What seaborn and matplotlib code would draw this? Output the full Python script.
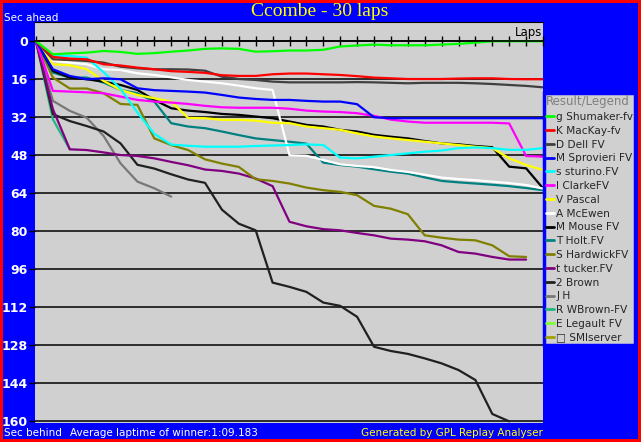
import matplotlib
matplotlib.use('Agg')

import pandas as pd
import seaborn as sns
import matplotlib.pyplot as plt
from matplotlib.lines import Line2D

# driver names as in the legend
DRIVERS = [
    'g Shumaker-fv', 'K MacKay-fv', 'D Dell FV', 'M Sprovieri FV', 's sturino.FV',
    'I ClarkeFV', 'V Pascal', 'A McEwen', 'M Mouse FV', 'T Holt.FV',
    'S HardwickFV', 't tucker.FV', '2 Brown', 'J H', 'R WBrown-FV',
    'E Legault FV', '\u25a1 SMIserver',
]
COLORS = [
    '#00ff00', '#ff0000', '#404040', '#0000ff', '#00ffff',
    '#ff00ff', '#ffff00', '#ffffff', '#000000', '#008080',
    '#808000', '#800080', '#202020', '#787878', '#20b880',
    '#80ff30', '#a0a000',
]

# seconds behind the leader, one value per lap (lap 0 first)
shumaker = [0, 5.5, 5.1, 4.8, 4.1, 4.5, 5.3, 5.0, 4.4, 3.9, 3.2, 3.0, 3.2, 4.4, 4.2, 3.9,
            3.9, 3.6, 2.2, 1.8, 1.4, 1.7, 1.7, 1.7, 1.4, 1.1, 0.6, 0, 0, 0, 0]
mackay = [0, 6.6, 7.3, 7.6, 9.7, 10.2, 11.1, 11.8, 12.6, 12.9, 13.3, 14.3, 14.6, 14.6, 13.9, 13.6,
          13.6, 13.9, 14.2, 14.7, 15.3, 15.6, 15.9, 15.9, 15.9, 15.7, 15.6, 15.6, 15.9, 16.0, 16.0]
dell = [0, 7.6, 7.9, 8.3, 9.0, 10.7, 11.4, 11.8, 11.8, 11.9, 12.4, 14.9, 15.9, 16.3, 17.0, 17.3,
        17.3, 17.3, 17.3, 17.2, 17.3, 17.5, 17.7, 17.5, 17.5, 17.5, 17.7, 18.0, 18.4, 18.8, 19.4]
sprovieri = [0, 11.8, 14.6, 16.0, 15.6, 16.0, 19.8, 20.6, 20.9, 21.2, 21.6, 22.6, 23.7, 24.3, 24.7, 24.7,
             25.1, 25.4, 25.4, 26.5, 32.0, 32.4, 32.4, 32.4, 32.4, 32.4, 32.4, 32.4, 32.4, 32.4, 32.4]
sturino = [0, 6.0, 6.2, 6.9, 13.0, 20.0, 30.0, 39.0, 43.5, 44.0, 44.4, 44.4, 44.4, 44.1, 43.9, 43.7,
           43.4, 43.7, 49.0, 49.3, 48.6, 47.9, 47.2, 46.5, 46.0, 45.0, 44.7, 45.0, 45.7, 45.7, 45.0]
clarke = [0, 20.9, 21.2, 21.5, 21.9, 23.3, 24.7, 25.4, 25.8, 26.4, 27.2, 27.8, 28.0, 28.0, 28.0, 28.4,
          29.2, 29.6, 29.8, 30.3, 31.4, 33.0, 33.8, 34.3, 34.3, 34.3, 34.3, 34.3, 34.6, 48.3, 48.6]
pascal = [0, 9.7, 10.1, 11.8, 16.7, 20.5, 22.6, 24.0, 25.4, 32.3, 32.4, 33.1, 33.1, 33.4, 34.3, 34.5,
          35.9, 36.6, 37.3, 38.8, 40.1, 40.9, 41.6, 42.3, 43.0, 43.7, 44.4, 45.0, 49.3, 52.1, 54.2]
mcewen = [0, 8.3, 9.0, 9.7, 11.8, 12.1, 13.5, 14.2, 15.2, 16.3, 17.0, 17.7, 18.7, 19.8, 20.5, 48.0,
          48.2, 50.0, 51.8, 52.5, 53.0, 54.2, 55.0, 56.2, 57.4, 58.0, 58.5, 59.1, 59.7, 60.5, 62.0]
mouse = [0, 12.5, 15.3, 16.0, 17.0, 18.4, 20.5, 24.7, 28.2, 29.2, 29.8, 30.6, 31.0, 31.7, 32.4, 33.8,
         35.2, 35.9, 37.3, 38.0, 39.4, 40.2, 40.9, 42.0, 43.0, 43.4, 44.1, 44.6, 52.8, 53.5, 61.9]
holt = [0, 13.2, 15.3, 15.3, 17.4, 20.5, 21.9, 25.4, 34.5, 35.9, 36.6, 38.0, 39.5, 40.9, 41.6, 42.3,
        43.1, 51.1, 52.1, 52.8, 53.9, 54.9, 55.7, 57.3, 58.8, 59.4, 59.9, 60.4, 61.0, 61.8, 62.7]
hardwick = [0, 15.3, 19.9, 19.9, 21.9, 26.4, 26.8, 40.9, 43.7, 45.8, 49.7, 51.5, 52.9, 58.1, 58.8, 59.9,
            61.6, 62.7, 63.4, 64.8, 69.3, 70.5, 72.8, 81.7, 82.7, 83.5, 83.8, 85.9, 90.5, 90.8]
tucker = [0, 28.6, 45.5, 45.8, 46.8, 47.9, 48.3, 49.3, 50.8, 52.2, 54.0, 54.6, 55.7, 57.8, 61.0, 76.0,
          77.9, 79.1, 79.6, 80.7, 81.7, 83.1, 83.5, 84.2, 85.9, 88.7, 89.4, 90.8, 91.9, 91.9]
brown = [0, 30.7, 33.6, 35.7, 38.0, 43.0, 52.0, 53.6, 56.0, 58.2, 59.6, 70.9, 76.8, 79.6, 101.6, 103.4,
         105.5, 110.0, 111.4, 116.0, 128.6, 130.4, 131.6, 133.5, 135.6, 138.4, 142.6, 156.9, 160.0]
jh = [0, 25.1, 29.3, 32.2, 39.9, 51.4, 59.1, 61.9, 65.4]
wbrown = [0, 32.9, 45.5]
legault = []
smiserver = []

SERIES = [shumaker, mackay, dell, sprovieri, sturino, clarke, pascal, mcewen, mouse, holt,
          hardwick, tucker, brown, jh, wbrown, legault, smiserver]

Y_TICKS = list(range(0, 161, 16))

BLUE = '#0000ff'
PANEL = '#d0d0d0'

# long form table for seaborn
rows = []
for name, vals in zip(DRIVERS, SERIES):
    for lap, sec in enumerate(vals):
        rows.append({'driver': name, 'lap': lap, 'sec': sec})
df = pd.DataFrame(rows)

sns.set_style("white")
plt.rcParams['font.family'] = ['DejaVu Sans']

fig = plt.figure(figsize=(6.41, 4.42), dpi=100)
fig.patch.set_facecolor(BLUE)
fig.patch.set_edgecolor('#ff0000')
fig.patch.set_linewidth(4.3)

W, H = 641.0, 442.0
ax = fig.add_axes([35 / W, 1 - 423 / H, 508 / W, 401 / H])
ax.set_facecolor(PANEL)

drawn = [d for d, v in zip(DRIVERS, SERIES) if len(v) > 0]
palette = dict(zip(DRIVERS, COLORS))
# draw back to front so the leaders end up on top
for name in reversed(drawn):
    sns.lineplot(data=df[df['driver'] == name], x='lap', y='sec', color=palette[name],
                 lw=1.6, estimator=None, legend=False, ax=ax)

ax.set_xlim(-0.06, 30.0)
ax.set_ylim(160.7, -8.1)

# lap ticks on the zero line
for s in ['left', 'right']:
    ax.spines[s].set_visible(False)
ax.spines['top'].set_color('black')
ax.spines['top'].set_linewidth(0.8)
ax.spines['bottom'].set_position(('data', 0))
ax.spines['bottom'].set_color('black')
ax.spines['bottom'].set_linewidth(1.2)
ax.set_xticks(range(0, 31))
ax.tick_params(axis='x', direction='inout', length=7, width=1, color='black',
               labelbottom=False, bottom=True)

ax.set_yticks(Y_TICKS)
ax.set_yticklabels([str(v) for v in Y_TICKS], color='white', fontsize=9, fontweight='bold')
ax.tick_params(axis='y', direction='out', length=4, width=1, color='black', pad=1, left=True)
ax.grid(axis='y', color='black', lw=1.1)
ax.grid(axis='x', visible=False)
ax.set_xlabel('')
ax.set_ylabel('')

ax.text(29.95, -1.0, 'Laps', ha='right', va='bottom', fontsize=8.5, color='black')

# texts around the chart
fig.text(320 / W, 1 - 12 / H, 'Ccombe - 30 laps', ha='center', va='center',
         fontsize=14, color='#ffff00', family='Liberation Serif')
fig.text(4 / W, 1 - 18 / H, 'Sec ahead', ha='left', va='center', fontsize=7.5, color='white')
fig.text(4 / W, 1 - 433 / H, 'Sec behind', ha='left', va='center', fontsize=7.5, color='white')
fig.text(70 / W, 1 - 433 / H, 'Average laptime of winner:1:09.183', ha='left', va='center',
         fontsize=7.5, color='white')
fig.text(543 / W, 1 - 433 / H, 'Generated by GPL Replay Analyser', ha='right', va='center',
         fontsize=7.5, color='#ffff00')

# legend box on the right
handles = [Line2D([], [], color=c, lw=2) for c in COLORS]
leg = fig.legend(handles, DRIVERS, loc='upper left', bbox_to_anchor=(544 / W, 1 - 93 / H),
                 title='Result/Legend', fontsize=7.6, title_fontsize=8.5, frameon=True,
                 fancybox=False, facecolor=PANEL, edgecolor=BLUE, framealpha=1,
                 handlelength=0.7, handletextpad=0.25, labelspacing=0.36,
                 borderpad=0.2, borderaxespad=0, alignment='left')
leg.get_frame().set_linewidth(2.5)
leg.get_title().set_color('#808080')

plt.savefig('out.png', dpi=100, facecolor=fig.get_facecolor(), edgecolor=fig.get_edgecolor())
